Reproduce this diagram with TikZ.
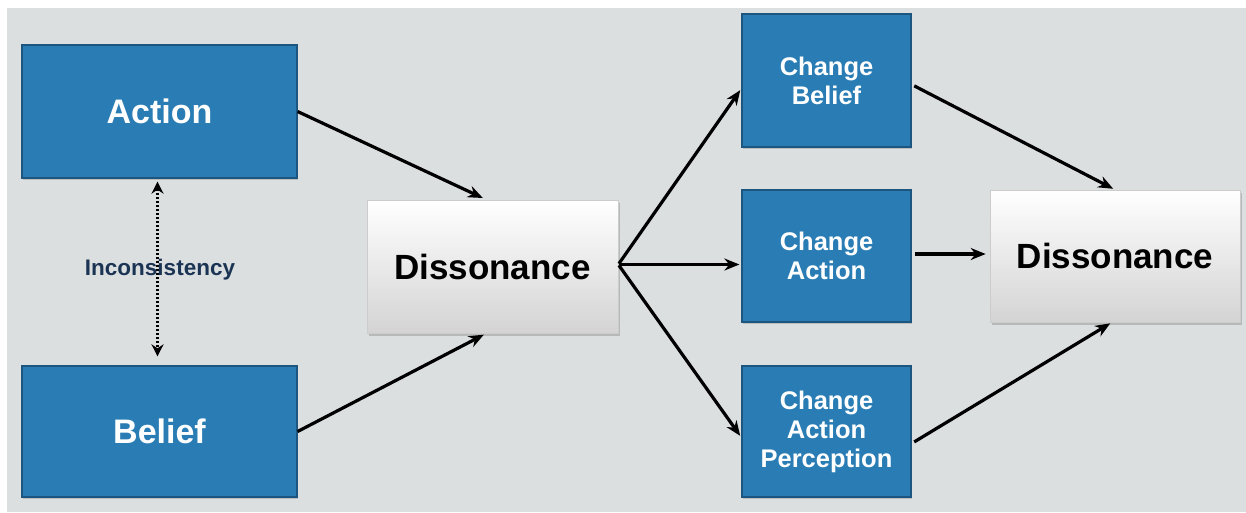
\documentclass[tikz,border=0pt]{standalone}
\usepackage{fontspec}
\setmainfont{Liberation Sans}
\usetikzlibrary{arrows.meta,shadows,calc}
\definecolor{bgrey}{RGB}{220,223,224}
\definecolor{boxblue}{RGB}{42,125,180}
\definecolor{boxedge}{RGB}{28,86,128}
\definecolor{navy}{RGB}{28,52,84}
\begin{document}
\begin{tikzpicture}[x=1pt,y=-1pt,
  bluebox/.style={rectangle, fill=boxblue, draw=boxedge, line width=1.2pt,
    drop shadow={shadow xshift=1pt, shadow yshift=-2pt, opacity=0.35},
    text=white, font=\bfseries, align=center, inner sep=0pt},
  greybox/.style={rectangle, top color=white, bottom color=black!17,
    draw=black!20, line width=0.6pt,
    drop shadow={shadow xshift=1.5pt, shadow yshift=-2.5pt, opacity=0.4},
    text=black, font=\bfseries\fontsize{35}{38}\selectfont, inner sep=0pt},
  conn/.style={-{Stealth[length=15pt,width=12pt]}, line width=3.2pt, black},
  dotconn/.style={{Stealth[length=12pt,width=12pt]}-{Stealth[length=12pt,width=12pt]}, line width=3pt, black, dash pattern=on 2pt off 2pt}
]
\useasboundingbox (0,0) rectangle (1246,512);
\fill[white] (0,0) rectangle (1246,512);
\fill[bgrey] (7,8) rectangle (1246,512);

\node[bluebox, minimum width=275pt, minimum height=133pt, font=\bfseries\fontsize{34}{36}\selectfont] (act) at (159.5,111.5) {Action};
\node[bluebox, minimum width=275pt, minimum height=131pt, font=\bfseries\fontsize{34}{36}\selectfont] (bel) at (159.5,431.5) {Belief};
\node[greybox, minimum width=251pt, minimum height=133pt] (d1) at (492.5,266.5) {Dissonance};
\node[bluebox, minimum width=169pt, minimum height=133pt, font=\bfseries\fontsize{25.5}{29}\selectfont] (cb) at (826.5,80.5) {Change\\Belief};
\node[bluebox, minimum width=169pt, minimum height=132pt, font=\bfseries\fontsize{25.5}{29}\selectfont] (ca) at (826.5,256) {Change\\Action};
\node[bluebox, minimum width=169pt, minimum height=131pt, font=\bfseries\fontsize{25.5}{29}\selectfont] (cap) at (826.5,431.5) {Change\\Action\\Perception};
\node[greybox, minimum width=250pt, minimum height=132pt] (d2) at (1115,256) {Dissonance};

\draw[dotconn, shorten <=3pt, shorten >=9pt] ([xshift=-2pt]act.south) -- ([xshift=-2pt]bel.north);
\node[text=navy, font=\bfseries\fontsize{22.5}{26}\selectfont] (inc) at (160,270) {Inconsistency};

\draw[conn, shorten >=4pt] (act.east) -- ([xshift=-6pt]d1.north);
\draw[conn, shorten >=3pt] (bel.east) -- ([xshift=-6pt]d1.south);
\draw[conn, shorten <=1pt, shorten >=2pt] ([yshift=2pt]d1.east) -- ([yshift=-8pt]cb.west);
\draw[conn, shorten <=1pt, shorten >=2pt] ([yshift=2pt]d1.east) -- ([yshift=2pt]d1.east -| ca.west);
\draw[conn, shorten <=1pt, shorten >=2pt] ([yshift=2pt]d1.east) -- ([yshift=-6pt]cap.west);
\draw[conn, shorten <=3pt, shorten >=2pt] ([yshift=-4pt]cb.east) -- (d2.north);
\draw[conn, shorten <=3pt, shorten >=4pt] ([yshift=2pt]ca.east) -- ([yshift=2pt]ca.east -| d2.west);
\draw[conn, shorten <=3pt, shorten >=2pt] ([yshift=-12pt]cap.east) -- ([xshift=-3pt]d2.south);
\end{tikzpicture}
\end{document}
